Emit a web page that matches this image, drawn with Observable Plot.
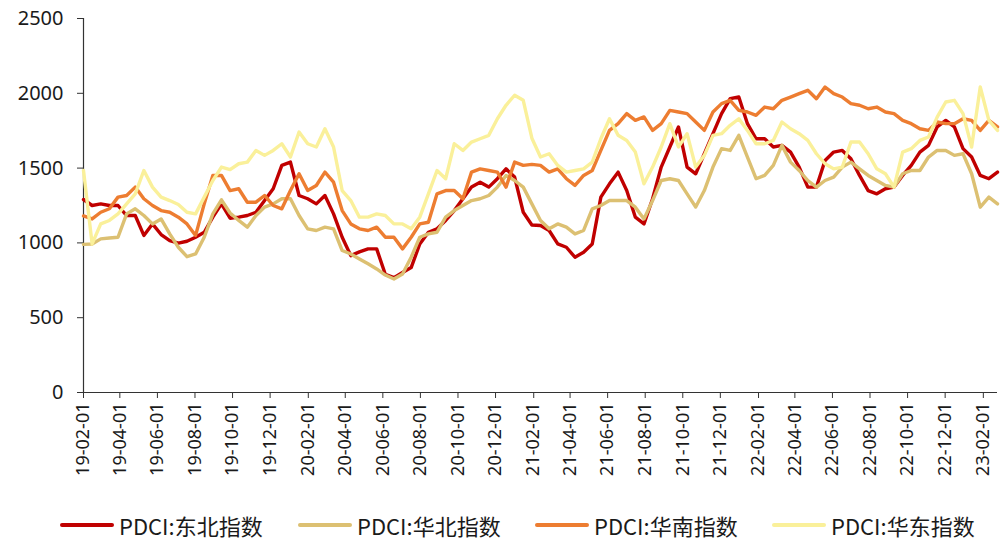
<!DOCTYPE html>
<html>
<head>
<meta charset="utf-8">
<script src="https://cdn.jsdelivr.net/npm/d3@7"></script>
<script src="https://cdn.jsdelivr.net/npm/@observablehq/plot@0.6"></script>
<style>
  html, body { margin: 0; padding: 0; background: #ffffff; }
  #chart { width: 1008px; height: 500px; }
  #legend { position: relative; width: 1008px; height: 50px; font-family: "Noto Sans CJK SC", "Noto Sans", sans-serif; font-size: 22px; color: #1a1a1a; }
  .item { position: absolute; top: 0; height: 50px; display: flex; align-items: center; }
  .swatch { width: 54px; height: 4px; border-radius: 2px; margin-right: 5px; }
</style>
</head>
<body>
<div id="chart"></div>
<div id="legend"></div>
<script>
// ---- data (biweekly readings, starting 2019-02-01) ----
const startDate = "2019-02-01";
const stepDays = 14;

const seriesNames = ["PDCI:东北指数", "PDCI:华北指数", "PDCI:华南指数", "PDCI:华东指数"];

const dongbei = [
  1290,1250,1261,1250,1250,1183,1183,1050,1127,1056,1015,998,1011,1038,1071,1172,1261,1165,
  1172,1183,1205,1283,1362,1518,1540,1317,1295,1261,1317,1194,1038,915,940,960,960,790,
  768,802,835,993,1071,1094,1150,1216,1295,1373,1406,1373,1429,1495,1440,1205,1120,
  1116,1083,993,971,904,938,993,1306,1395,1473,1350,1172,1127,1295,1507,1641,1775,1507,
  1462,1596,1730,1864,1964,1975,1797,1696,1696,1641,1652,1607,1507,1373,1373,1551,1607,
  1618,1562,1451,1350,1328,1362,1373,1451,1518,1607,1652,1775,1819,1775,1630,1574,1451,1429,1473
];
const huabei = [
  990,993,1027,1033,1038,1194,1228,1183,1127,1160,1060,971,908,926,1038,1194,1288,1200,
  1150,1105,1183,1239,1261,1295,1295,1183,1094,1083,1105,1094,949,926,893,860,826,785,
  759,792,904,1038,1060,1071,1172,1216,1250,1283,1295,1317,1373,1451,1417,1373,1261,
  1150,1094,1127,1105,1060,1083,1228,1250,1283,1283,1283,1239,1160,1283,1417,1429,1417,1328,
  1240,1350,1507,1630,1618,1719,1574,1429,1451,1518,1652,1540,1484,1417,1373,1417,1440,
  1507,1540,1495,1451,1417,1384,1373,1462,1484,1484,1574,1618,1618,1585,1596,1462,1239,1306,1261
];
const huanan = [
  1180,1160,1205,1228,1306,1317,1373,1295,1250,1216,1205,1172,1127,1050,1261,1451,1451,1350,
  1362,1272,1272,1317,1250,1228,1350,1462,1350,1384,1473,1406,1216,1127,1094,1083,1105,1038,
  1038,960,1038,1127,1138,1328,1350,1350,1295,1473,1495,1484,1473,1373,1540,1518,1525,
  1518,1473,1495,1429,1384,1451,1484,1618,1752,1797,1864,1819,1842,1752,1797,1886,1875,1864,
  1808,1752,1875,1931,1953,1886,1875,1853,1908,1897,1953,1975,1998,2020,1964,2042,1998,
  1975,1931,1920,1897,1908,1875,1864,1819,1797,1763,1752,1808,1797,1797,1830,1819,1752,1819,1775
];
const huadong = [
  1484,993,1127,1150,1194,1261,1328,1484,1373,1306,1283,1257,1205,1194,1306,1417,1507,1490,
  1529,1540,1618,1585,1618,1663,1574,1741,1663,1641,1763,1641,1350,1283,1172,1172,1194,1183,
  1127,1127,1094,1172,1328,1484,1429,1663,1618,1674,1696,1719,1830,1920,1987,1953,1700,
  1574,1596,1518,1473,1484,1495,1540,1696,1830,1719,1685,1607,1395,1507,1641,1797,1641,1730,
  1507,1585,1719,1730,1786,1830,1752,1663,1663,1685,1808,1763,1730,1685,1596,1529,1495,
  1507,1674,1674,1596,1495,1462,1373,1607,1630,1685,1708,1841,1942,1953,1864,1641,2042,1819,1752
];

const xTickLabels = ["19-02-01","19-04-01","19-06-01","19-08-01","19-10-01","19-12-01",
  "20-02-01","20-04-01","20-06-01","20-08-01","20-10-01","20-12-01",
  "21-02-01","21-04-01","21-06-01","21-08-01","21-10-01","21-12-01",
  "22-02-01","22-04-01","22-06-01","22-08-01","22-10-01","22-12-01","23-02-01"];
const yTicks = [0, 500, 1000, 1500, 2000, 2500];
const colors = ["#C00000", "#DCC072", "#ED7D31", "#FAF09A"];

// ---- build table ----
const start = d3.utcParse("%Y-%m-%d")(startDate);
const allSeries = [dongbei, huabei, huanan, huadong];
const rows = [];
allSeries.forEach((vals, s) => {
  vals.forEach((v, i) => rows.push({ date: d3.utcDay.offset(start, i * stepDays), value: v, series: seriesNames[s] }));
});
const endDate = d3.utcDay.offset(start, (dongbei.length - 1) * stepDays);
const parseTick = d3.utcParse("%y-%m-%d");
const xTicks = xTickLabels.map(parseTick);

const plot = Plot.plot({
  width: 1008,
  height: 500,
  marginLeft: 83,
  marginRight: 11,
  marginTop: 18,
  marginBottom: 108,
  style: { fontFamily: "'Noto Sans', sans-serif", fontSize: "18px", color: "#1a1a1a", background: "#ffffff" },
  x: { type: "utc", domain: [start, endDate] },
  y: { domain: [0, 2500] },
  marks: [
    Plot.axisX({ ticks: xTicks, tickFormat: d3.utcFormat("%y-%m-%d"), tickRotate: -90, tickSize: 6, tickPadding: 4, label: null, stroke: "#333", fontSize: 18 }),
    Plot.axisY({ ticks: yTicks, tickFormat: d3.format("d"), tickSize: 6, tickPadding: 14, label: null, fontSize: 20, stroke: "#333" }),
    Plot.ruleY([0], { stroke: "#333", strokeWidth: 1.2 }),
    Plot.ruleX([start], { stroke: "#333", strokeWidth: 1.2 }),
    ...seriesNames.map((name, s) =>
      Plot.lineY(rows.filter(r => r.series === name), { x: "date", y: "value", stroke: colors[s], strokeWidth: 3.4, strokeLinejoin: "round" })
    )
  ]
});
document.getElementById("chart").appendChild(plot);

// ---- legend ----
const legendLeft = [60, 298, 535, 772];
const legend = document.getElementById("legend");
seriesNames.forEach((name, s) => {
  const item = document.createElement("div");
  item.className = "item";
  item.style.left = legendLeft[s] + "px";
  const sw = document.createElement("div");
  sw.className = "swatch";
  sw.style.background = colors[s];
  const tx = document.createElement("span");
  tx.textContent = name;
  item.appendChild(sw);
  item.appendChild(tx);
  legend.appendChild(item);
});
</script>
</body>
</html>
